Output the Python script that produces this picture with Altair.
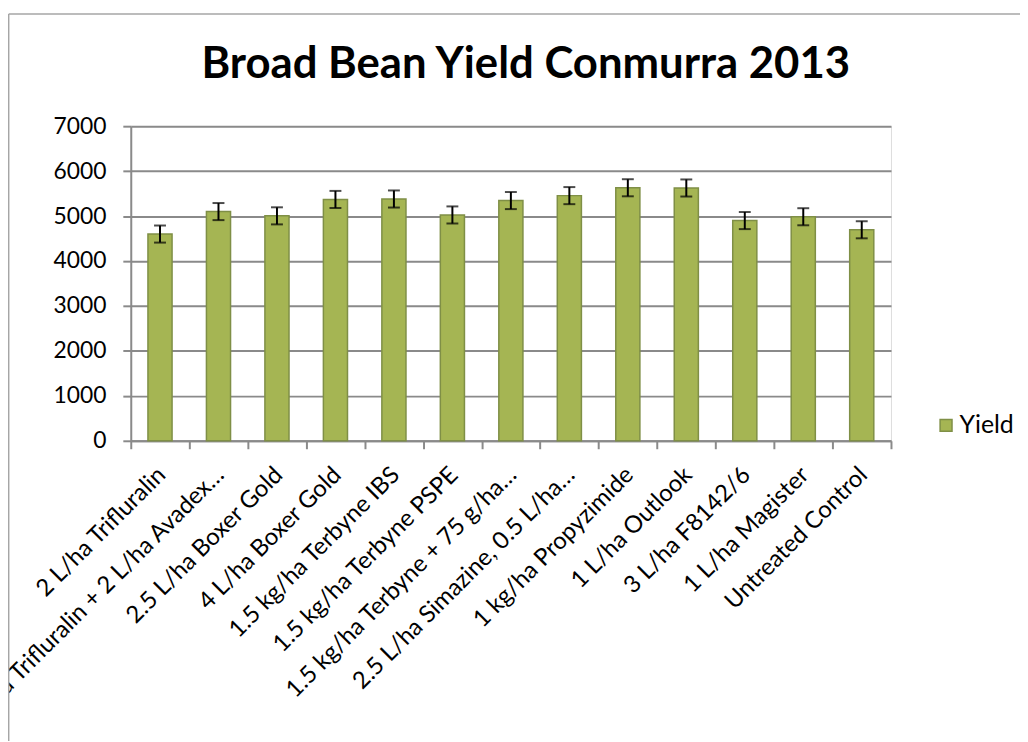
import altair as alt
import pandas as pd

title_text = "Broad Bean Yield Conmurra 2013"
categories = [
    "2 L/ha Trifluralin",
    "2 L/ha Trifluralin + 2 L/ha Avadex…",
    "2.5 L/ha Boxer Gold",
    "4 L/ha Boxer Gold",
    "1.5 kg/ha Terbyne IBS",
    "1.5 kg/ha Terbyne PSPE",
    "1.5 kg/ha Terbyne + 75 g/ha…",
    "2.5 L/ha Simazine, 0.5 L/ha…",
    "1 kg/ha Propyzimide",
    "1 L/ha Outlook",
    "3 L/ha F8142/6",
    "1 L/ha Magister",
    "Untreated Control",
]
yields = [4600, 5100, 5005, 5370, 5380, 5025, 5345, 5455, 5630, 5625, 4900, 4985, 4695]
errors = [190, 190, 190, 190, 190, 190, 190, 190, 190, 190, 190, 190, 190]
series_name = "Yield"
y_ticks = [0, 1000, 2000, 3000, 4000, 5000, 6000, 7000]

df = pd.DataFrame({"treatment": categories, "yield": yields, "err": errors})
df["lo"] = df["yield"] - df["err"]
df["hi"] = df["yield"] + df["err"]
df["series"] = series_name

FONT = "Lato"
W, H = 766, 317
BAR_FILL = "#a5b553"
BAR_STROKE = "#7f8f46"
GRID = "#8a8a8a"

x_enc = alt.X(
    "treatment:N",
    sort=categories,
    scale=alt.Scale(paddingInner=0, paddingOuter=0),
    axis=alt.Axis(
        title=None,
        labelAngle=-45,
        labelAlign="right",
        labelBaseline="top",
        labelFontSize=24,
        labelFont=FONT,
        labelColor="#000000",
        labelPadding=14,
        labelOffset=-7,
        labelLimit=0,
        labelOverlap=False,
        tickBand="extent",
        tickSize=8,
        tickColor=GRID,
        tickWidth=2,
        domainColor=GRID,
        domainWidth=2,
        grid=False,
    ),
)
y_scale = alt.Scale(domain=[0, 7000], nice=False)

bars = alt.Chart(df).mark_bar(size=24.3, stroke=BAR_STROKE, strokeWidth=1.5).encode(
    x=x_enc,
    y=alt.Y(
        "yield:Q",
        scale=y_scale,
        axis=alt.Axis(
            title=None,
            values=y_ticks,
            format="d",
            labelFontSize=23,
            labelFont=FONT,
            labelColor="#000000",
            labelPadding=17,
            tickSize=8,
            tickColor=GRID,
            tickWidth=2,
            domainColor=GRID,
            domainWidth=2,
            gridColor=GRID,
            gridWidth=2,
        ),
    ),
    color=alt.Color(
        "series:N",
        scale=alt.Scale(range=[BAR_FILL]),
        legend=alt.Legend(
            title=None,
            orient="none",
            legendX=809,
            legendY=289,
            symbolType="square",
            symbolSize=144,
            symbolStrokeColor=BAR_STROKE,
            symbolStrokeWidth=1.5,
            symbolOpacity=1,
            labelFontSize=25,
            labelFont=FONT,
            labelColor="#000000",
            labelOffset=1,
            padding=0,
        ),
    ),
)

rules = alt.Chart(df).mark_rule(color="#000000", strokeWidth=2).encode(
    x=alt.X("treatment:N", sort=categories),
    y=alt.Y("lo:Q", scale=y_scale),
    y2="hi:Q",
)
caps_lo = alt.Chart(df).mark_tick(color="#000000", thickness=2, size=12, orient="horizontal").encode(
    x=alt.X("treatment:N", sort=categories),
    y=alt.Y("lo:Q", scale=y_scale),
)
caps_hi = alt.Chart(df).mark_tick(color="#000000", thickness=2, size=12, orient="horizontal").encode(
    x=alt.X("treatment:N", sort=categories),
    y=alt.Y("hi:Q", scale=y_scale),
)

title_mark = alt.Chart(df.head(1)).mark_text(
    text=title_text,
    font=FONT,
    fontSize=44,
    fontWeight="bold",
    color="#000000",
    align="center",
    baseline="alphabetic",
).encode(x=alt.value(398), y=alt.value(-49))

border_left = alt.Chart(df.head(1)).mark_rule(color="#a6a6a6", strokeWidth=1.5).encode(
    x=alt.value(-123), y=alt.value(-113), y2=alt.value(H + 310)
)
border_top = alt.Chart(df.head(1)).mark_rule(color="#a6a6a6", strokeWidth=1.5).encode(
    x=alt.value(-123), x2=alt.value(W + 140), y=alt.value(-113)
)

chart = (
    alt.layer(bars, rules, caps_lo, caps_hi, title_mark, border_left, border_top)
    .properties(
        width=W,
        height=H,
        autosize=alt.AutoSizeParams(type="none"),
        padding={"left": 123.7, "top": 116.3, "right": 130, "bottom": 300},
    )
    .configure_view(fill="#f2f2ea", stroke=None)
    .configure(background="#ffffff")
)

chart.save("out.html", embed_options={"renderer": "svg", "actions": False})
